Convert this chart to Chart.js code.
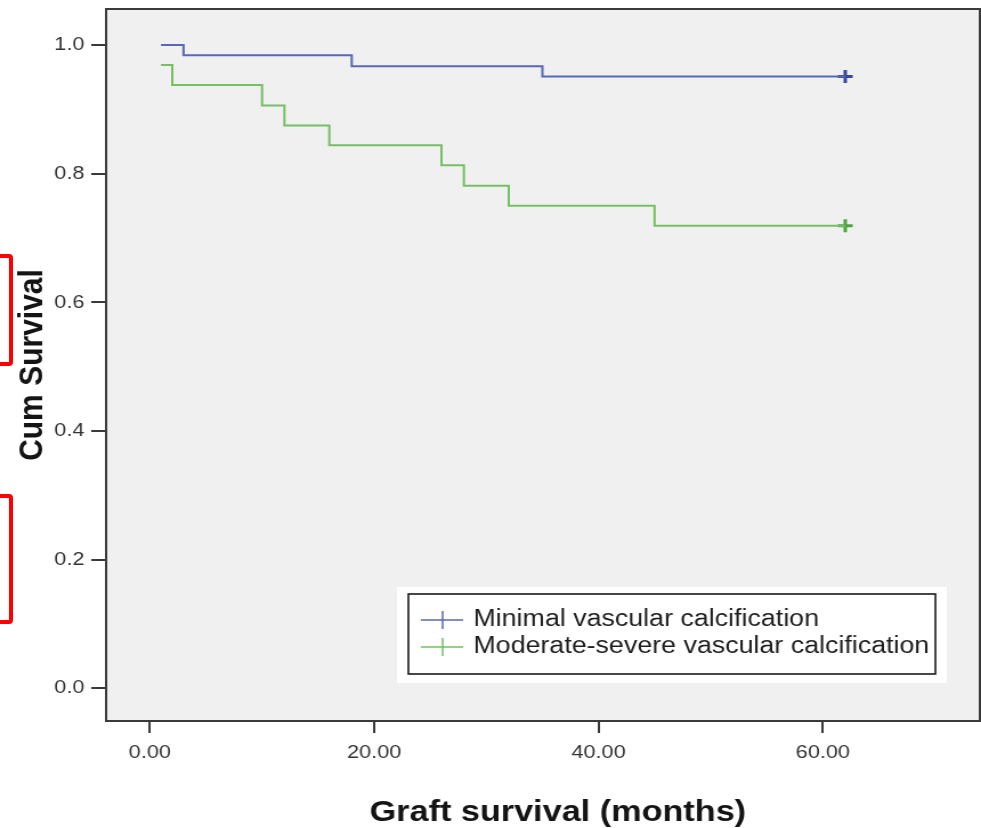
<!DOCTYPE html>
<html>
<head>
<meta charset="utf-8">
<title>Graft survival by vascular calcification</title>
<script src="https://cdn.jsdelivr.net/npm/chart.js@4/dist/chart.umd.min.js"></script>
<style>
  html, body { margin: 0; padding: 0; background: #ffffff; overflow: hidden; }
  #wrap { position: relative; width: 981px; height: 828px; }
  #km { position: absolute; left: 0; top: 0; }
  .mark { position: absolute; border: 4px solid #ff0000; border-radius: 4px; box-sizing: border-box; }
</style>
</head>
<body>
<div id="wrap">
  <!-- drawn 860 px wide, shown 981 px wide -->
  <canvas id="km" width="860" height="828" style="width:981px;height:828px"></canvas>
  <div class="mark" style="left:-30px; top:254px; width:43px; height:112px;"></div>
  <div class="mark" style="left:-30px; top:494px; width:43px; height:130px;"></div>
</div>
<script>
// Kaplan-Meier steps: time of each event (months) and survival after it
const minimalTimes = [1, 3, 18, 35, 62];
const minimalSurv  = [1.0, 0.984, 0.967, 0.951, 0.951];
const moderateTimes = [1, 2, 10, 12, 16, 26, 28, 32, 45, 62];
const moderateSurv  = [0.969, 0.938, 0.906, 0.875, 0.844, 0.813, 0.781, 0.750, 0.719, 0.719];

// censored observations
const minimalCensorTimes = [62];
const minimalCensorSurv  = [0.951];
const moderateCensorTimes = [62];
const moderateCensorSurv  = [0.719];

const seriesNames = ['Minimal vascular calcification', 'Moderate-severe vascular calcification'];
const xTitle = 'Graft survival (months)';
const yTitle = 'Cum Survival';

const xTickValues = [0, 20, 40, 60];
const xTickLabels = ['0.00', '20.00', '40.00', '60.00'];
const yTickValues = [0, 0.2, 0.4, 0.6, 0.8, 1.0];
const yTickLabels = ['0.0', '0.2', '0.4', '0.6', '0.8', '1.0'];

const BLUE_LINE = '#5a68b3';
const BLUE_MARK = '#3a479c';
const GREEN_LINE = '#74c063';
const GREEN_MARK = '#4aa63a';
const FRAME = '#3a3a3a';
const FONT = '"Liberation Sans", Arial, sans-serif';

const toPoints = (xs, ys) => xs.map((x, i) => ({ x: x, y: ys[i] }));

// plot background, closing top/right frame and the horizontal axis title
const framePlugin = {
  id: 'frame',
  beforeDraw(chart) {
    const { ctx, chartArea: a } = chart;
    ctx.save();
    ctx.fillStyle = '#f0f0f0';
    ctx.fillRect(a.left, a.top, a.right - a.left, a.bottom - a.top);
    ctx.restore();
  },
  afterDraw(chart) {
    const { ctx, chartArea: a } = chart;
    ctx.save();
    ctx.strokeStyle = FRAME;
    ctx.lineWidth = 2;
    ctx.beginPath();
    ctx.moveTo(a.left, a.top);
    ctx.lineTo(a.right, a.top);
    ctx.lineTo(a.right, a.bottom);
    ctx.stroke();

    ctx.fillStyle = '#141414';
    ctx.font = 'bold 30px ' + FONT;
    ctx.textAlign = 'center';
    ctx.textBaseline = 'middle';
    ctx.fillText(xTitle, a.left + (a.right - a.left) * 0.517, 813);
    ctx.restore();
  }
};

// boxed legend with cross symbols in the lower right of the plot
const legendBoxPlugin = {
  id: 'legendBox',
  afterDatasetsDraw(chart) {
    const { ctx } = chart;
    const colors = [BLUE_LINE, GREEN_LINE];
    const rows = [620, 647];
    ctx.save();
    ctx.fillStyle = '#ffffff';
    ctx.fillRect(348, 587, 482, 96);
    ctx.strokeStyle = '#1a1a1a';
    ctx.lineWidth = 1.6;
    ctx.strokeRect(358, 594, 462, 80);
    ctx.font = '23.5px ' + FONT;
    ctx.textBaseline = 'middle';
    ctx.textAlign = 'left';
    seriesNames.forEach((name, i) => {
      const y = rows[i];
      ctx.strokeStyle = colors[i];
      ctx.lineWidth = 1.5;
      ctx.beginPath();
      ctx.moveTo(369, y);
      ctx.lineTo(406, y);
      ctx.moveTo(388, y - 9);
      ctx.lineTo(388, y + 9);
      ctx.stroke();
      ctx.fillStyle = '#1e1e1e';
      ctx.fillText(name, 415, y);
    });
    ctx.restore();
  }
};

new Chart(document.getElementById('km'), {
  type: 'line',
  data: {
    datasets: [
      {
        label: seriesNames[0],
        data: toPoints(minimalTimes, minimalSurv),
        borderColor: BLUE_LINE,
        borderWidth: 2,
        stepped: 'before',
        pointRadius: 0,
        fill: false
      },
      {
        label: seriesNames[1],
        data: toPoints(moderateTimes, moderateSurv),
        borderColor: GREEN_LINE,
        borderWidth: 2,
        stepped: 'before',
        pointRadius: 0,
        fill: false
      },
      {
        label: seriesNames[0] + ' censored',
        data: toPoints(minimalCensorTimes, minimalCensorSurv),
        showLine: false,
        pointStyle: 'cross',
        pointRadius: 6.5,
        pointBorderWidth: 3,
        pointBorderColor: BLUE_MARK,
        borderColor: BLUE_MARK
      },
      {
        label: seriesNames[1] + ' censored',
        data: toPoints(moderateCensorTimes, moderateCensorSurv),
        showLine: false,
        pointStyle: 'cross',
        pointRadius: 6.5,
        pointBorderWidth: 3,
        pointBorderColor: GREEN_MARK,
        borderColor: GREEN_MARK
      }
    ]
  },
  options: {
    responsive: false,
    devicePixelRatio: 1,
    animation: false,
    layout: { autoPadding: false, padding: { top: 9, right: 1, left: 0, bottom: 0 } },
    plugins: {
      legend: { display: false },
      tooltip: { enabled: false }
    },
    scales: {
      x: {
        type: 'linear',
        min: -3.9,
        max: 74,
        afterBuildTicks(scale) { scale.ticks = xTickValues.map(v => ({ value: v })); },
        afterFit(scale) {
          scale.height = 107;
          scale.paddingLeft = 0;
          scale.paddingRight = 0;
        },
        grid: { display: true, drawOnChartArea: false, drawTicks: true, tickLength: 12, color: FRAME, lineWidth: 2 },
        border: { display: true, color: FRAME, width: 2 },
        ticks: {
          padding: 8,
          color: '#333333',
          font: { family: FONT, size: 19 },
          maxRotation: 0,
          callback: (v, i) => xTickLabels[i]
        },
        title: { display: false }
      },
      y: {
        type: 'linear',
        min: -0.051,
        max: 1.056,
        afterBuildTicks(scale) { scale.ticks = yTickValues.map(v => ({ value: v })); },
        afterFit(scale) {
          scale.width = 93;
          scale.paddingTop = 0;
          scale.paddingBottom = 0;
        },
        grid: { display: true, drawOnChartArea: false, drawTicks: true, tickLength: 13, color: FRAME, lineWidth: 2 },
        border: { display: true, color: FRAME, width: 2 },
        ticks: {
          padding: 6,
          color: '#333333',
          font: { family: FONT, size: 19 },
          callback: (v, i) => yTickLabels[i]
        },
        title: {
          display: true,
          text: yTitle,
          color: '#141414',
          font: { family: FONT, size: 30, weight: 'bold', lineHeight: 1.2 },
          padding: { top: 11, bottom: 0 }
        }
      }
    }
  },
  plugins: [framePlugin, legendBoxPlugin]
});
</script>
</body>
</html>
